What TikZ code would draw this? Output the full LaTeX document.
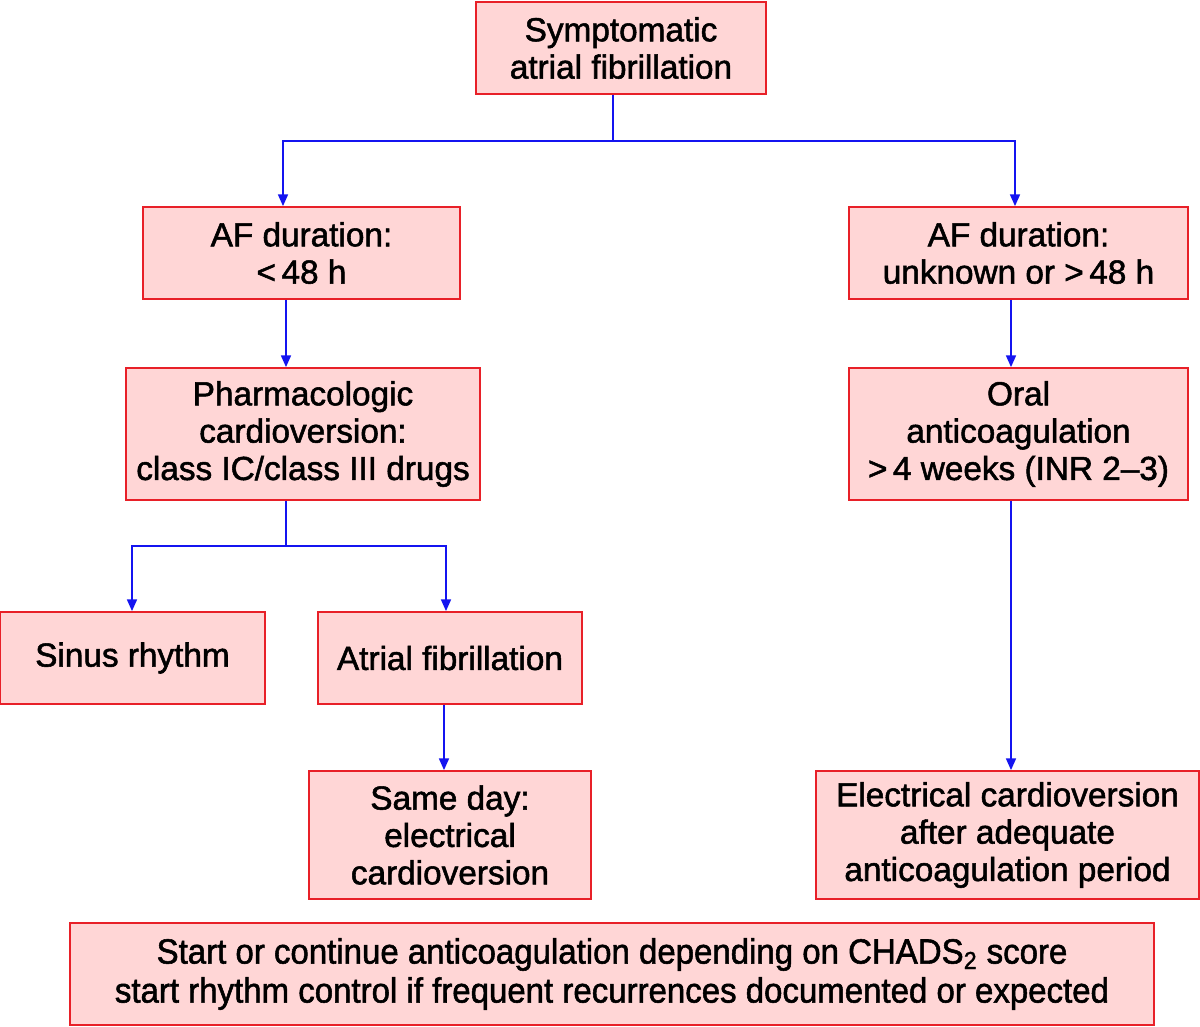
\documentclass[tikz,border=0pt]{standalone}
\usepackage{fontspec}
\setmainfont{Liberation Sans}[FakeBold=1.6]
\usetikzlibrary{arrows.meta}
\definecolor{boxfill}{RGB}{255,214,214}
\definecolor{boxline}{RGB}{232,32,40}
\definecolor{conn}{RGB}{20,20,240}
\begin{document}
\begin{tikzpicture}[x=0.6pt,y=-0.6pt,
  box/.style={draw=boxline, line width=1.1pt, fill=boxfill, align=center, inner sep=0pt,
    font={\fontsize{20}{22.4}\selectfont}},
  conline/.style={draw=conn, line width=0.9pt},
  arr/.style={conline, -{Triangle[length=7pt,width=6pt]}}]
\path[use as bounding box] (0,0) rectangle (1200,1026);
\node[box, minimum width=290*0.6pt, minimum height=92*0.6pt] (top) at (621,48) {Symptomatic\\atrial fibrillation};
\node[box, minimum width=317*0.6pt, minimum height=92*0.6pt] (short) at (301.5,253) {AF duration:\\<\,48 h};
\node[box, minimum width=339*0.6pt, minimum height=92*0.6pt] (long) at (1018.5,253) {AF duration:\\unknown or >\,48 h};
\node[box, minimum width=354*0.6pt, minimum height=132*0.6pt] (pharm) at (303,434) {Pharmacologic\\cardioversion:\\class IC/class III drugs};
\node[box, minimum width=339*0.6pt, minimum height=132*0.6pt] (oral) at (1018.5,434) {Oral\\anticoagulation\\>\,4 weeks (INR 2--3)};
\node[box, minimum width=265*0.6pt, minimum height=92*0.6pt] (sinus) at (132.5,658) {Sinus rhythm};
\node[box, minimum width=264*0.6pt, minimum height=92*0.6pt] (af) at (450,658) {Atrial fibrillation};
\node[box, minimum width=282*0.6pt, minimum height=128*0.6pt] (same) at (450,835) {Same day:\\electrical\\cardioversion};
\node[box, minimum width=383*0.6pt, minimum height=128*0.6pt] (elec) at (1007.5,835) {Electrical cardioversion\\after adequate\\anticoagulation period};
\node[box, minimum width=1084*0.6pt, minimum height=102*0.6pt] (bottom) at (612,974)
  {\scalebox{0.99}[1.05]{Start or continue anticoagulation depending on CHADS\textsubscript{2} score}\\[1pt]
   \scalebox{0.99}[1.05]{start rhythm control if frequent recurrences documented or expected}};
% connectors
\coordinate (j1) at (613,141);
\coordinate (j2) at (286,546);
\draw[conline] (top.south -| j1) -- (j1);
\draw[arr] (j1) -| (short.north -| 283,0);
\draw[arr] (j1) -| (long.north -| 1015,0);
\draw[arr] (short.south -| 286,0) -- (pharm.north -| 286,0);
\draw[arr] (long.south -| 1011,0) -- (oral.north -| 1011,0);
\draw[conline] (pharm.south -| j2) -- (j2);
\draw[arr] (j2) -| (sinus.north -| 132,0);
\draw[arr] (j2) -| (af.north -| 446,0);
\draw[arr] (af.south -| 444,0) -- (same.north -| 444,0);
\draw[arr] (oral.south -| 1011,0) -- (elec.north -| 1011,0);
\end{tikzpicture}
\end{document}
